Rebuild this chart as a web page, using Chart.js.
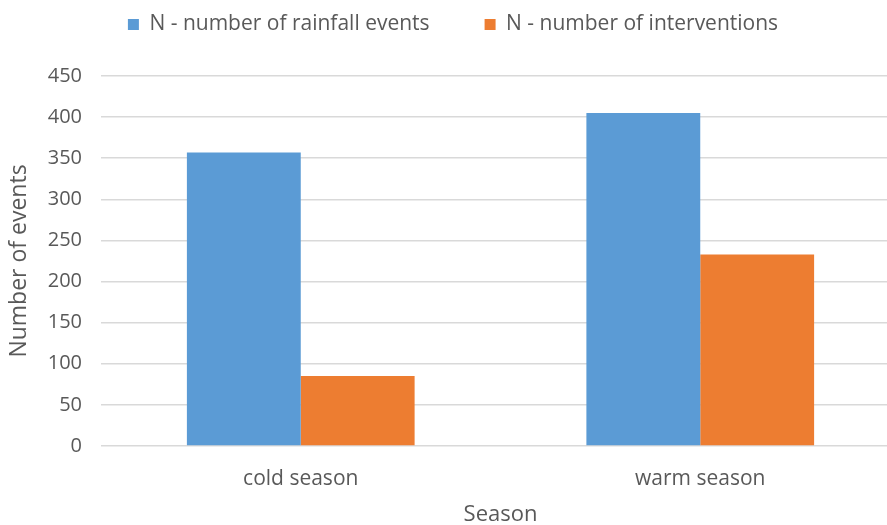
<!DOCTYPE html>
<html>
<head>
<meta charset="utf-8">
<script src="https://cdn.jsdelivr.net/npm/chart.js@4"></script>
<style>
  html, body { margin: 0; padding: 0; background: #fff; overflow: hidden; }
  /* the reference plot runs a little past the right edge of the picture */
  #wrap { width: 900px; height: 525px; }
</style>
</head>
<body>
<div id="wrap"><canvas id="myChart"></canvas></div>
<script>
// data
const seasons = ['cold season', 'warm season'];
const rainfallEvents = [357, 405];
const interventions = [85, 233];
const yTicks = [0, 50, 100, 150, 200, 250, 300, 350, 400, 450];

const ctx = document.getElementById('myChart');
const grey = '#595959';
const font = '"Open Sans", sans-serif';

// legend padding gives the wide gap between items, so trim its height afterwards
const legendHeight = {
    id: 'legendHeight',
    beforeInit(chart) {
        const fit = chart.legend.fit;
        chart.legend.fit = function() {
            fit.bind(chart.legend)();
            this.height = 117;
        };
    }
};

const myChart = new Chart(ctx, {
    type: 'bar',
    data: {
        labels: seasons,
        datasets: [{
            label: 'N - number of rainfall events',
            data: rainfallEvents,
            backgroundColor: '#5b9bd5',
            borderWidth: 0
        }, {
            label: 'N - number of interventions',
            data: interventions,
            backgroundColor: '#ed7d31',
            borderWidth: 0
        }]
    },
    options: {
        responsive: true,
        maintainAspectRatio: false,
        animation: false,
        layout: { padding: { top: -41, right: 0, left: 6, bottom: -3 } },
        datasets: {
            bar: { categoryPercentage: 0.57, barPercentage: 1.0 }
        },
        plugins: {
            legend: {
                position: 'top',
                labels: {
                    color: grey,
                    font: { family: font, size: 21 },
                    boxWidth: 11,
                    boxHeight: 11,
                    padding: 55
                }
            },
            tooltip: { enabled: false }
        },
        scales: {
            x: {
                grid: { display: false },
                border: { display: false },
                ticks: { color: grey, font: { family: font, size: 21 }, padding: 12 },
                title: {
                    display: true,
                    text: 'Season',
                    color: grey,
                    font: { family: font, size: 22 },
                    padding: { top: 0, bottom: 0 }
                },
                afterFit: function(axis) { axis.height = 82; }
            },
            y: {
                min: 0,
                max: 450,
                afterBuildTicks: function(axis) {
                    axis.ticks = yTicks.map(function(v) { return { value: v }; });
                },
                grid: { color: '#d9d9d9', lineWidth: 1.5, drawTicks: false },
                border: { display: false },
                ticks: { color: grey, font: { family: font, size: 20 }, padding: 19 },
                title: {
                    display: true,
                    text: 'Number of events',
                    color: grey,
                    font: { family: font, size: 23 },
                    padding: { top: 0, bottom: 0 }
                },
                afterFit: function(axis) { axis.width = 95; }
            }
        }
    },
    plugins: [legendHeight]
});
</script>
</body>
</html>
